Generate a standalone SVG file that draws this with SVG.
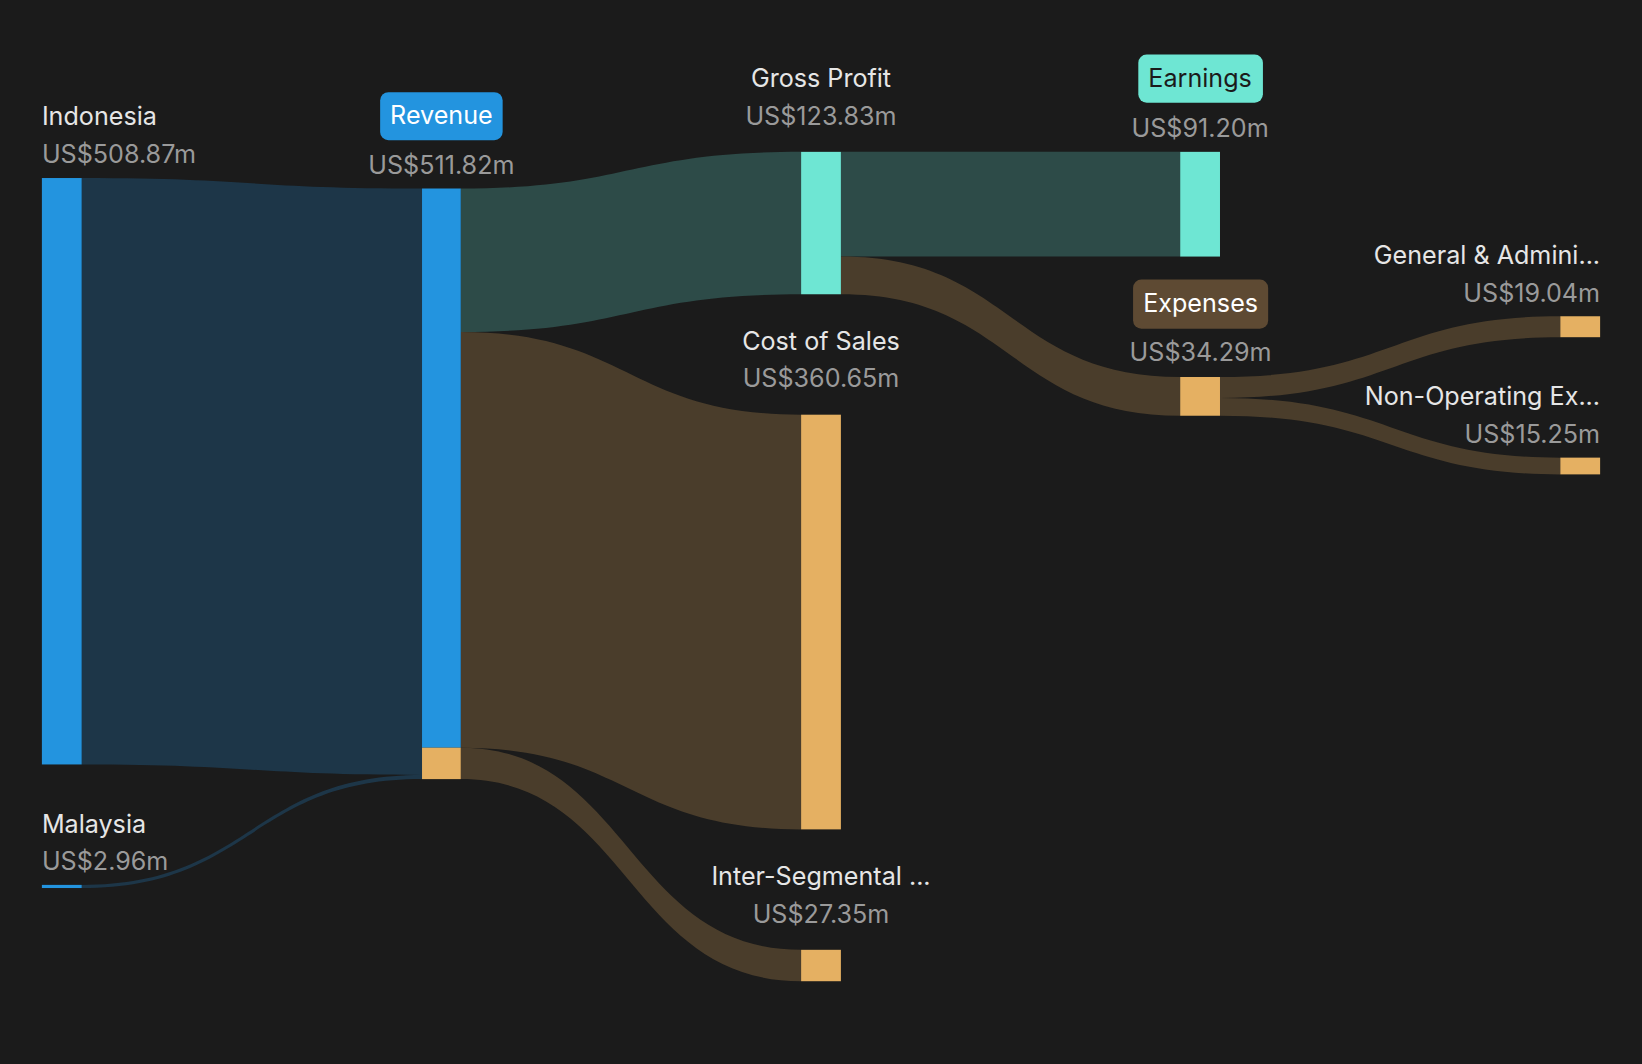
<svg xmlns="http://www.w3.org/2000/svg" width="1642" height="1064" viewBox="0 0 1642 1064">
<style>
text{font-family:Inter,"Liberation Sans",sans-serif;font-size:24px}
.n{fill:#e6e6e6}.v{fill:#9a9a9a}.m{text-anchor:middle}.e{text-anchor:end}
.fb{fill:#1d3648}.ft{fill:#2d4b48}.fo{fill:#4a3d2b}
.b{fill:#2394df}.t{fill:#6ee6d3}.o{fill:#e5b062}
</style>
<rect width="1642" height="1064" fill="#1b1b1b"/>
<g transform="scale(1.0472)">
<g id="connectors">
<path class="fb" d="M78 170 C240 170,240 180,403 180 L403 740 C240 740,240 730,78 730 Z"/>
<path class="fb" d="M78 845 C240 845,240 740,403 740 L403 744 C240 744,240 848,78 848 Z"/>
<path class="ft" d="M440 180 C600 180,600 145,765 145 L765 281 C600 281,600 317,440 317 Z"/>
<path class="fo" d="M440 317 C600 317,600 396,765 396 L765 792 C600 792,600 714,440 714 Z"/>
<path class="fo" d="M440 714 C600 714,600 907,765 907 L765 937 C600 937,600 744,440 744 Z"/>
<path class="ft" d="M803 145 L1127 145 L1127 245 L803 245 Z"/>
<path class="fo" d="M803 245 C965 245,965 360,1127 360 L1127 397 C965 397,965 281,803 281 Z"/>
<path class="fo" d="M1165 360 C1330 360,1330 302,1490 302 L1490 322 C1330 322,1330 380,1165 380 Z"/>
<path class="fo" d="M1165 380 C1330 380,1330 437,1490 437 L1490 453 C1330 453,1330 397,1165 397 Z"/>
</g>
<g id="indonesia"><rect class="b" x="40" y="170" width="38" height="560"/><text class="n" x="40" y="119">Indonesia</text><text class="v" x="40" y="156">US$508.87m</text></g>
<g id="malaysia"><rect class="b" x="40" y="845" width="38" height="3"/><text class="n" x="40" y="795">Malaysia</text><text class="v" x="40" y="831">US$2.96m</text></g>
<g id="revenue"><rect class="b" x="403" y="180" width="37" height="534"/><rect class="o" x="403" y="714" width="37" height="30"/><rect x="363" y="88" width="117" height="46" rx="8" fill="#2394df"/><text class="m" x="421.5" y="118" fill="#fff">Revenue</text><text class="v m" x="421.5" y="166">US$511.82m</text></g>
<g id="grossprofit"><rect class="t" x="765" y="145" width="38" height="136"/><text class="n m" x="784" y="83">Gross Profit</text><text class="v m" x="784" y="119">US$123.83m</text></g>
<g id="costofsales"><rect class="o" x="765" y="396" width="38" height="396"/><text class="n m" x="784" y="334">Cost of Sales</text><text class="v m" x="784" y="370">US$360.65m</text></g>
<g id="intersegmental"><rect class="o" x="765" y="907" width="38" height="30"/><text class="n m" x="784" y="845">Inter-Segmental ...</text><text class="v m" x="784" y="881">US$27.35m</text></g>
<g id="earnings"><rect class="t" x="1127" y="145" width="38" height="100"/><rect x="1087" y="52" width="119" height="46" rx="8" fill="#6ee6d3"/><text class="m" x="1146" y="83" fill="#1b1b1b">Earnings</text><text class="v m" x="1146" y="131">US$91.20m</text></g>
<g id="expenses"><rect class="o" x="1127" y="360" width="38" height="37"/><rect x="1082" y="267" width="129" height="47" rx="8" fill="#5e4a33"/><text class="m" x="1146.5" y="298" fill="#fff">Expenses</text><text class="v m" x="1146.5" y="345">US$34.29m</text></g>
<g id="ga"><rect class="o" x="1490" y="302" width="38" height="20"/><text class="n e" x="1528" y="252">General &amp; Admini...</text><text class="v e" x="1528" y="288">US$19.04m</text></g>
<g id="nonop"><rect class="o" x="1490" y="437" width="38" height="16"/><text class="n e" x="1528" y="387">Non-Operating Ex...</text><text class="v e" x="1528" y="423">US$15.25m</text></g>
</g>
</svg>
